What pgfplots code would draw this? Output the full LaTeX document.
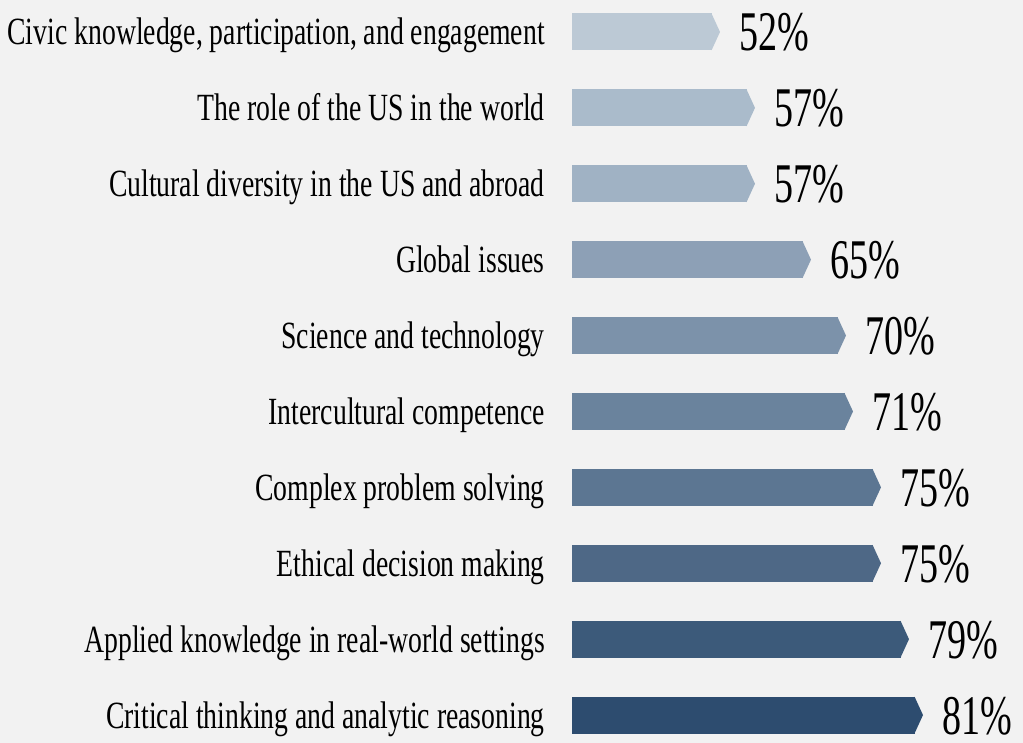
\documentclass[border=0pt]{standalone}
\usepackage{fontspec}
\setmainfont{Liberation Serif}[FakeStretch=0.72]
\newfontfamily\pctfont{Liberation Serif}[FakeStretch=0.68]
\usepackage{pgfplots}
\pgfplotsset{compat=1.18}

% bar colours, light at the top to dark at the bottom
\definecolor{bg}{RGB}{242,242,242}
\definecolor{c0}{RGB}{188,201,213}
\definecolor{c1}{RGB}{170,187,203}
\definecolor{c2}{RGB}{160,178,196}
\definecolor{c3}{RGB}{141,160,182}
\definecolor{c4}{RGB}{124,146,170}
\definecolor{c5}{RGB}{106,131,157}
\definecolor{c6}{RGB}{92,118,146}
\definecolor{c7}{RGB}{78,104,134}
\definecolor{c8}{RGB}{60,90,122}
\definecolor{c9}{RGB}{45,76,111}

% arrow point at the end of each bar
\pgfdeclareplotmark{tip}{%
  \pgfpathmoveto{\pgfpoint{-0.5bp}{-18.5bp}}%
  \pgfpathlineto{\pgfpoint{8bp}{0bp}}%
  \pgfpathlineto{\pgfpoint{-0.5bp}{18.5bp}}%
  \pgfpathclose\pgfusepathqfill}

\begin{document}
\begin{tikzpicture}
\fill[bg] (0,0) rectangle (1023bp,743bp);
\begin{axis}[
  at={(572bp,-10bp)}, anchor=south west,
  x=7bp, y=75.9bp,
  xmin=32, xmax=100,
  ymin=-0.5, ymax=9.5,
  y dir=reverse,
  clip=false,
  axis line style={draw=none},
  major tick length=0pt,
  xtick=\empty,
  ytick={0,...,9},
  yticklabels={
    {Civic knowledge, participation, and engagement},
    {The role of the US in the world},
    {Cultural diversity in the US and abroad},
    {Global issues},
    {Science and technology},
    {Intercultural competence},
    {Complex problem solving},
    {Ethical decision making},
    {Applied knowledge in real-world settings},
    {Critical thinking and analytic reasoning}},
  yticklabel style={font=\fontsize{38.5bp}{40bp}\selectfont,
    anchor=base east, inner sep=0pt, xshift=-27bp, yshift=-13bp},
  xbar, bar shift=0pt, bar width=37bp,
  mark=tip,
  point meta=x,
  nodes near coords={\pgfmathprintnumber[assume math mode=true]{\pgfplotspointmeta}\%},
  every node near coord/.append style={font=\pctfont\fontsize{56bp}{58bp}\selectfont,
    text=black, anchor=base west, inner sep=0pt, xshift=27bp, yshift=-19bp},
]
\addplot[fill=c0, draw=none, mark options={fill=c0}] coordinates {(52,0)};
\addplot[fill=c1, draw=none, mark options={fill=c1}] coordinates {(57,1)};
\addplot[fill=c2, draw=none, mark options={fill=c2}] coordinates {(57,2)};
\addplot[fill=c3, draw=none, mark options={fill=c3}] coordinates {(65,3)};
\addplot[fill=c4, draw=none, mark options={fill=c4}] coordinates {(70,4)};
\addplot[fill=c5, draw=none, mark options={fill=c5}] coordinates {(71,5)};
\addplot[fill=c6, draw=none, mark options={fill=c6}] coordinates {(75,6)};
\addplot[fill=c7, draw=none, mark options={fill=c7}] coordinates {(75,7)};
\addplot[fill=c8, draw=none, mark options={fill=c8}] coordinates {(79,8)};
\addplot[fill=c9, draw=none, mark options={fill=c9}] coordinates {(81,9)};
\end{axis}
\pgfresetboundingbox
\path[use as bounding box] (0,0) rectangle (1023bp,743bp);
\end{tikzpicture}
\end{document}
